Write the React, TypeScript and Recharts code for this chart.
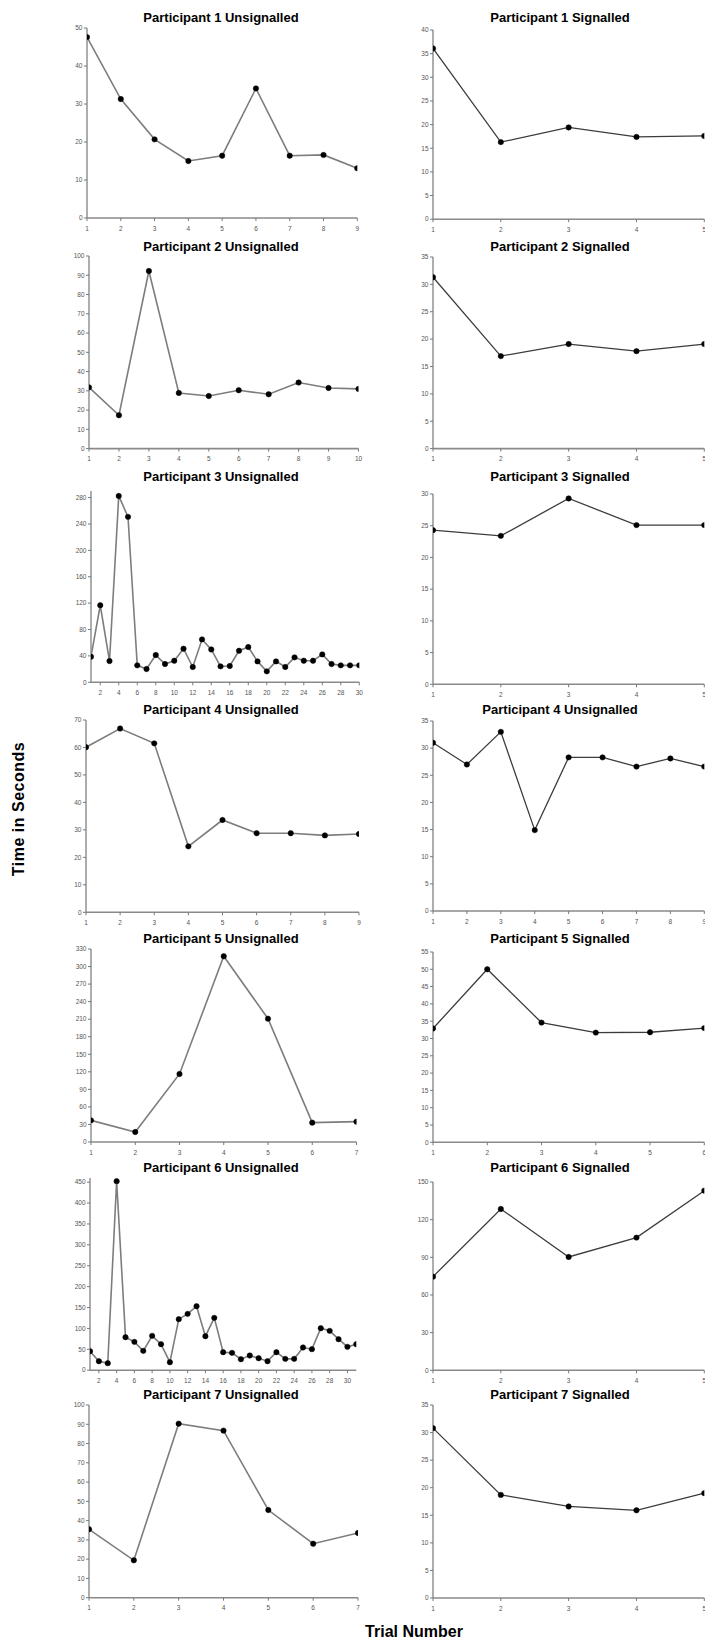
import React from 'react';
import { LineChart, Line, XAxis, YAxis } from 'recharts';

// Completion time (seconds) per trial, per participant and condition
const P1_UNSIG = [47.6, 31.3, 20.7, 15.0, 16.4, 34.1, 16.4, 16.6, 13.1];
const P1_SIG = [36.1, 16.3, 19.4, 17.4, 17.6];
const P2_UNSIG = [31.8, 17.3, 92.2, 28.9, 27.3, 30.3, 28.2, 34.3, 31.5, 31.0];
const P2_SIG = [31.3, 16.9, 19.1, 17.8, 19.1];
const P3_UNSIG = [
  38.8, 116.8, 32.2, 282.5, 250.8, 25.7, 20.1, 41.3, 27.7, 32.7,
  50.9, 23.2, 65.0, 49.8, 24.2, 24.7, 47.8, 53.4, 31.7, 16.6,
  31.7, 23.2, 37.8, 32.7, 32.7, 42.3, 27.7, 25.7, 25.7, 25.7,
];
const P3_SIG = [24.3, 23.4, 29.3, 25.1, 25.1];
const P4_UNSIG = [60.1, 66.9, 61.5, 24.0, 33.6, 28.8, 28.8, 28.0, 28.5];
const P4_SECOND = [31.0, 27.0, 33.0, 14.9, 28.3, 28.3, 26.6, 28.1, 26.6];
const P5_UNSIG = [37.0, 17.1, 116.3, 317.5, 210.9, 33.1, 34.8];
const P5_SIG = [32.9, 50.0, 34.6, 31.7, 31.8, 33.0];
const P6_UNSIG = [
  45.5, 21.5, 16.8, 452.4, 79.0, 67.8, 46.3, 82.2, 62.2, 19.1,
  122.1, 134.8, 153.2, 81.4, 125.3, 43.1, 41.5, 26.3, 35.1, 28.7,
  21.5, 43.1, 27.1, 27.1, 54.3, 50.3, 100.5, 94.2, 74.2, 55.9, 62.2,
];
const P6_SIG = [74.6, 128.5, 90.3, 105.7, 143.1];
const P7_UNSIG = [35.5, 19.4, 90.3, 86.7, 45.5, 28.0, 33.6];
const P7_SIG = [30.8, 18.7, 16.6, 15.9, 19.0];

// Axis tick labels
const TICKS_0_50_BY10 = [0, 10, 20, 30, 40, 50];
const TICKS_0_40_BY5 = [0, 5, 10, 15, 20, 25, 30, 35, 40];
const TICKS_0_100_BY10 = [0, 10, 20, 30, 40, 50, 60, 70, 80, 90, 100];
const TICKS_0_35_BY5 = [0, 5, 10, 15, 20, 25, 30, 35];
const TICKS_0_280_BY40 = [0, 40, 80, 120, 160, 200, 240, 280];
const TICKS_0_30_BY5 = [0, 5, 10, 15, 20, 25, 30];
const TICKS_0_70_BY10 = [0, 10, 20, 30, 40, 50, 60, 70];
const TICKS_0_330_BY30 = [0, 30, 60, 90, 120, 150, 180, 210, 240, 270, 300, 330];
const TICKS_0_55_BY5 = [0, 5, 10, 15, 20, 25, 30, 35, 40, 45, 50, 55];
const TICKS_0_450_BY50 = [0, 50, 100, 150, 200, 250, 300, 350, 400, 450];
const TICKS_0_150_BY30 = [0, 30, 60, 90, 120, 150];

const TRIALS_5 = [1, 2, 3, 4, 5];
const TRIALS_6 = [1, 2, 3, 4, 5, 6];
const TRIALS_7 = [1, 2, 3, 4, 5, 6, 7];
const TRIALS_9 = [1, 2, 3, 4, 5, 6, 7, 8, 9];
const TRIALS_10 = [1, 2, 3, 4, 5, 6, 7, 8, 9, 10];
const TRIALS_EVEN_30 = [2, 4, 6, 8, 10, 12, 14, 16, 18, 20, 22, 24, 26, 28, 30];

const TITLES = [
  'Participant 1 Unsignalled', 'Participant 1 Signalled',
  'Participant 2 Unsignalled', 'Participant 2 Signalled',
  'Participant 3 Unsignalled', 'Participant 3 Signalled',
  'Participant 4 Unsignalled', 'Participant 4 Unsignalled',
  'Participant 5 Unsignalled', 'Participant 5 Signalled',
  'Participant 6 Unsignalled', 'Participant 6 Signalled',
  'Participant 7 Unsignalled', 'Participant 7 Signalled',
];

type Panel = {
  title: string;
  values: number[];
  yMax: number;
  yTicks: number[];
  xMax: number;
  xTicks: number[];
  // plot box on the page: left, right, y of yMax, y of zero
  box: [number, number, number, number];
  titleX: number;
  titleY: number;
  left: boolean;
};

const LEFT_TITLE_X = 221;
const RIGHT_TITLE_X = 560;
const RIGHT_X0 = 433.2;
const RIGHT_X1 = 704.5;

const PANELS: Panel[] = [
  { title: TITLES[0], values: P1_UNSIG, yMax: 50, yTicks: TICKS_0_50_BY10, xMax: 9, xTicks: TRIALS_9,
    box: [86.7, 357, 28.3, 218.3], titleX: LEFT_TITLE_X, titleY: 16.7, left: true },
  { title: TITLES[1], values: P1_SIG, yMax: 40, yTicks: TICKS_0_40_BY5, xMax: 5, xTicks: TRIALS_5,
    box: [RIGHT_X0, RIGHT_X1, 30.3, 219.5], titleX: RIGHT_TITLE_X, titleY: 16.7, left: false },
  { title: TITLES[2], values: P2_UNSIG, yMax: 100, yTicks: TICKS_0_100_BY10, xMax: 10, xTicks: TRIALS_10,
    box: [88.5, 358, 255.7, 448.3], titleX: LEFT_TITLE_X, titleY: 245.7, left: true },
  { title: TITLES[3], values: P2_SIG, yMax: 35, yTicks: TICKS_0_35_BY5, xMax: 5, xTicks: TRIALS_5,
    box: [RIGHT_X0, RIGHT_X1, 256.7, 448.3], titleX: RIGHT_TITLE_X, titleY: 245.7, left: false },
  { title: TITLES[4], values: P3_UNSIG, yMax: 290, yTicks: TICKS_0_280_BY40, xMax: 30, xTicks: TRIALS_EVEN_30,
    box: [90.7, 359, 490.7, 682], titleX: LEFT_TITLE_X, titleY: 476, left: true },
  { title: TITLES[5], values: P3_SIG, yMax: 30, yTicks: TICKS_0_30_BY5, xMax: 5, xTicks: TRIALS_5,
    box: [RIGHT_X0, RIGHT_X1, 493.7, 684], titleX: RIGHT_TITLE_X, titleY: 476, left: false },
  { title: TITLES[6], values: P4_UNSIG, yMax: 70, yTicks: TICKS_0_70_BY10, xMax: 9, xTicks: TRIALS_9,
    box: [86, 359, 720, 912.3], titleX: LEFT_TITLE_X, titleY: 709, left: true },
  { title: TITLES[7], values: P4_SECOND, yMax: 35, yTicks: TICKS_0_35_BY5, xMax: 9, xTicks: TRIALS_9,
    box: [RIGHT_X0, RIGHT_X1, 720.7, 910.7], titleX: RIGHT_TITLE_X, titleY: 709, left: false },
  { title: TITLES[8], values: P5_UNSIG, yMax: 330, yTicks: TICKS_0_330_BY30, xMax: 7, xTicks: TRIALS_7,
    box: [91, 356.5, 949.3, 1142.3], titleX: LEFT_TITLE_X, titleY: 937.7, left: true },
  { title: TITLES[9], values: P5_SIG, yMax: 55, yTicks: TICKS_0_55_BY5, xMax: 6, xTicks: TRIALS_6,
    box: [RIGHT_X0, RIGHT_X1, 952, 1142.3], titleX: RIGHT_TITLE_X, titleY: 937.7, left: false },
  { title: TITLES[10], values: P6_UNSIG, yMax: 460, yTicks: TICKS_0_450_BY50, xMax: 31, xTicks: TRIALS_EVEN_30,
    box: [90, 356.3, 1177.8, 1370], titleX: LEFT_TITLE_X, titleY: 1166.7, left: true },
  { title: TITLES[11], values: P6_SIG, yMax: 150, yTicks: TICKS_0_150_BY30, xMax: 5, xTicks: TRIALS_5,
    box: [RIGHT_X0, RIGHT_X1, 1181.7, 1370], titleX: RIGHT_TITLE_X, titleY: 1166.7, left: false },
  { title: TITLES[12], values: P7_UNSIG, yMax: 100, yTicks: TICKS_0_100_BY10, xMax: 7, xTicks: TRIALS_7,
    box: [89, 358, 1405.3, 1598], titleX: LEFT_TITLE_X, titleY: 1394.3, left: true },
  { title: TITLES[13], values: P7_SIG, yMax: 35, yTicks: TICKS_0_35_BY5, xMax: 5, xTicks: TRIALS_5,
    box: [RIGHT_X0, RIGHT_X1, 1405, 1598], titleX: RIGHT_TITLE_X, titleY: 1394.3, left: false },
];

const FONT = '"Liberation Sans", Arial, "DejaVu Sans", sans-serif';
const Y_AXIS_W = 32;
const X_AXIS_H = 22;
const M_TOP = 8;
const M_RIGHT = 10;

const tickStyle = { fontSize: 6.5, fill: '#555', fontFamily: FONT };

function SmallChart({ p }: { p: Panel }) {
  const [x0, x1, y0, y1] = p.box;
  const data = p.values.map((v, i) => ({ trial: i + 1, time: v }));
  const width = x1 - x0 + Y_AXIS_W + M_RIGHT;
  const height = y1 - y0 + M_TOP + X_AXIS_H;
  return (
    <>
      <div
        style={{
          position: 'absolute',
          left: p.titleX,
          top: p.titleY,
          transform: 'translate(-50%, -50%)',
          whiteSpace: 'nowrap',
          fontFamily: FONT,
          fontWeight: 'bold',
          fontSize: 13,
          lineHeight: 1,
          color: '#000',
        }}
      >
        {p.title}
      </div>
      <div style={{ position: 'absolute', left: x0 - Y_AXIS_W, top: y0 - M_TOP }}>
        <LineChart
          width={width}
          height={height}
          data={data}
          margin={{ top: M_TOP, right: M_RIGHT, left: 0, bottom: 0 }}
        >
          <XAxis
            dataKey="trial"
            type="number"
            domain={[1, p.xMax]}
            ticks={p.xTicks}
            interval={0}
            height={X_AXIS_H}
            tick={tickStyle}
            tickSize={3}
            tickMargin={5}
            axisLine={{ stroke: '#8a8a8a', strokeWidth: 1.6 }}
            tickLine={{ stroke: '#777', strokeWidth: 1 }}
            allowDataOverflow
          />
          <YAxis
            type="number"
            domain={[0, p.yMax]}
            ticks={p.yTicks}
            interval={0}
            width={Y_AXIS_W}
            tick={tickStyle}
            tickSize={3}
            tickMargin={1.5}
            axisLine={{ stroke: '#8a8a8a', strokeWidth: 1.4 }}
            tickLine={{ stroke: '#777', strokeWidth: 1 }}
            allowDataOverflow
          />
          <Line
            type="linear"
            dataKey="time"
            stroke={p.left ? '#7d7d7d' : '#3c3c3c'}
            strokeWidth={p.left ? 1.6 : 1.3}
            dot={{ r: 2.7, fill: '#000', stroke: '#000', strokeWidth: 0.5 }}
            activeDot={false}
            isAnimationActive={false}
          />
        </LineChart>
      </div>
    </>
  );
}

export default function App() {
  return (
    <div
      style={{
        position: 'absolute',
        left: 0,
        top: 0,
        width: 705,
        height: 1640,
        overflow: 'hidden',
        background: '#fff',
        fontFamily: FONT,
      }}
    >
      {PANELS.map((p, i) => (
        <SmallChart key={i} p={p} />
      ))}
      <div
        style={{
          position: 'absolute',
          left: 19,
          top: 809,
          transform: 'translate(-50%, -50%) rotate(-90deg)',
          whiteSpace: 'nowrap',
          fontWeight: 'bold',
          fontSize: 16,
          letterSpacing: 0.5,
          lineHeight: 1,
          color: '#000',
        }}
      >
        Time in Seconds
      </div>
      <div
        style={{
          position: 'absolute',
          left: 414,
          top: 1632,
          transform: 'translate(-50%, -50%)',
          whiteSpace: 'nowrap',
          fontWeight: 'bold',
          fontSize: 16,
          lineHeight: 1,
          color: '#000',
        }}
      >
        Trial Number
      </div>
    </div>
  );
}
